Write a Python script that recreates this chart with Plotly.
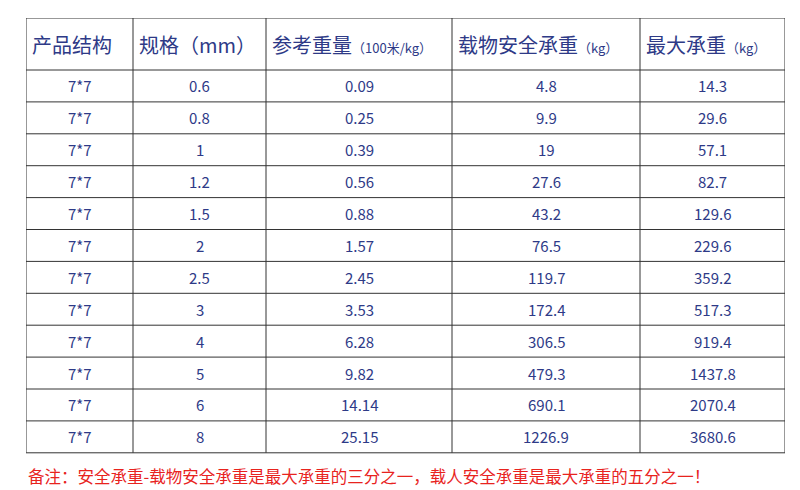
import plotly.graph_objects as go

structure = ["7*7"] * 12
spec = ["0.6", "0.8", "1", "1.2", "1.5", "2", "2.5", "3", "4", "5", "6", "8"]
weight = ["0.09", "0.25", "0.39", "0.56", "0.88", "1.57", "2.45", "3.53", "6.28", "9.82", "14.14", "25.15"]
safe_load = ["4.8", "9.9", "19", "27.6", "43.2", "76.5", "119.7", "172.4", "306.5", "479.3", "690.1", "1226.9"]
max_load = ["14.3", "29.6", "57.1", "82.7", "129.6", "229.6", "359.2", "517.3", "919.4", "1437.8", "2070.4", "3680.6"]

small = '<span style="font-size:13px">%s</span>'
headers = ["产品结构", "规格（mm）", "参考重量" + small % "（100米/kg）",
           "载物安全承重" + small % "（kg）", "最大承重" + small % "（kg）"]
note = "备注：安全承重-载物安全承重是最大承重的三分之一，载人安全承重是最大承重的五分之一！"

col_w = [107, 133, 186, 188, 145]
head_h = 52
row_h = 31.9

navy = "#2e3a87"
font = "Noto Sans CJK SC"

edges = [0]
for w in col_w:
    edges.append(edges[-1] + w)
rows = [structure, spec, weight, safe_load, max_load]
n = len(spec)
total_h = head_h + n * row_h

fig = go.Figure()
line = dict(color="#333333", width=1)
# vertical lines
for x in edges:
    fig.add_shape(type="line", x0=x, x1=x, y0=0, y1=total_h, line=line)
# horizontal lines
ys = [0, head_h] + [head_h + (i + 1) * row_h for i in range(n)]
for y in ys:
    fig.add_shape(type="line", x0=0, x1=edges[-1], y0=y, y1=y, line=line)

for c, h in enumerate(headers):
    fig.add_annotation(x=edges[c] + 4, y=head_h / 2, text=h, showarrow=False,
                       xanchor="left", yanchor="middle",
                       font=dict(family=font, size=20, color=navy))
    for r in range(n):
        fig.add_annotation(x=(edges[c] + edges[c + 1]) / 2, y=head_h + (r + 0.5) * row_h,
                           text=rows[c][r], showarrow=False,
                           font=dict(family=font, size=15, color=navy))

fig.add_annotation(x=0, y=total_h + 23, text=note, showarrow=False,
                   xanchor="left", yanchor="middle",
                   font=dict(family=font, size=16.5, color="#e8231e"))

fig.update_xaxes(range=[0, edges[-1]], domain=[18 / 800, (18 + edges[-1]) / 800], visible=False)
fig.update_yaxes(range=[480, 0], domain=[1 - 490 / 490, 1 - 10 / 490], visible=False)
fig.update_layout(width=800, height=490, margin=dict(l=0, r=0, t=0, b=0),
                  paper_bgcolor="white", plot_bgcolor="white")
fig.write_html("out.html")
